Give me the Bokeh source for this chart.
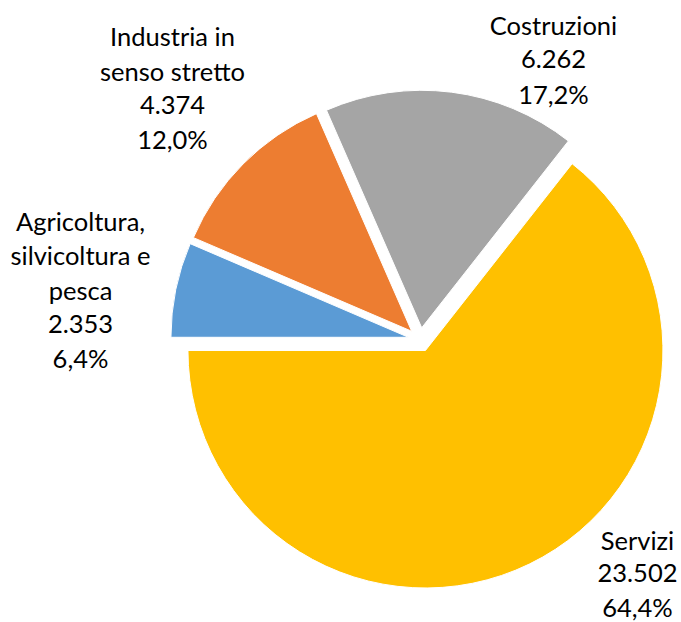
import math
from bokeh.plotting import figure
from bokeh.models import Range1d, ColumnDataSource
from bokeh.core.properties import value
from bokeh.embed import file_html
from bokeh.resources import INLINE

# ---- data ----
categories = ["Agricoltura,\nsilvicoltura e\npesca", "Industria in\nsenso stretto", "Costruzioni", "Servizi"]
values = [2353, 4374, 6262, 23502]
value_labels = ["2.353", "4.374", "6.262", "23.502"]
pct_labels = ["6,4%", "12,0%", "17,2%", "64,4%"]
colors = ["#5B9BD5", "#ED7D31", "#A5A5A5", "#FFC000"]

# ---- layout (screen-like coordinates, y downwards negated) ----
W, H = 681, 622
CX, CY = 419.7, -339.2
R = 237.5
EXPLODE = 12.0
START_DEG = 180.0
label_anchor = [(80, 220.5), (172, 35.7), (553, 24.6), (637, 539.0)]  # centre x, first line centre y (px)
label_line_h = [34.3, 34.3, 34.3, 33.5]

p = figure(width=W, height=H, output_backend="svg", toolbar_location=None,
           x_range=Range1d(0, W), y_range=Range1d(-H, 0),
           min_border=0)
p.axis.visible = False
p.grid.visible = False
p.outline_line_color = None
p.background_fill_color = "white"

total = float(sum(values))
xs, ys, sa, ea = [], [], [], []
cur = math.radians(START_DEG)
for v in values:
    span = 2 * math.pi * v / total
    s = cur
    e = cur - span
    mid = (s + e) / 2
    xs.append(CX + EXPLODE * math.cos(mid))
    ys.append(CY + EXPLODE * math.sin(mid))
    sa.append(s)
    ea.append(e)
    cur = e

src = ColumnDataSource(dict(x=xs, y=ys, start=sa, end=ea, color=colors))
p.wedge(x="x", y="y", radius=R, start_angle="start", end_angle="end",
        direction="clock", fill_color="color", line_color="white", line_width=1,
        source=src)

tx, ty, tt = [], [], []
for i, cat in enumerate(categories):
    lines = cat.split("\n") + [value_labels[i], pct_labels[i]]
    ax, ay = label_anchor[i]
    for j, ln in enumerate(lines):
        tx.append(ax)
        ty.append(-(ay + j * label_line_h[i]))
        tt.append(ln)

p.text(x=tx, y=ty, text=tt, text_font=value("Lato"), text_font_size="25.5px",
       text_align="center", text_baseline="middle", text_color="#000000")

open("out.html", "w").write(file_html(p, INLINE))
